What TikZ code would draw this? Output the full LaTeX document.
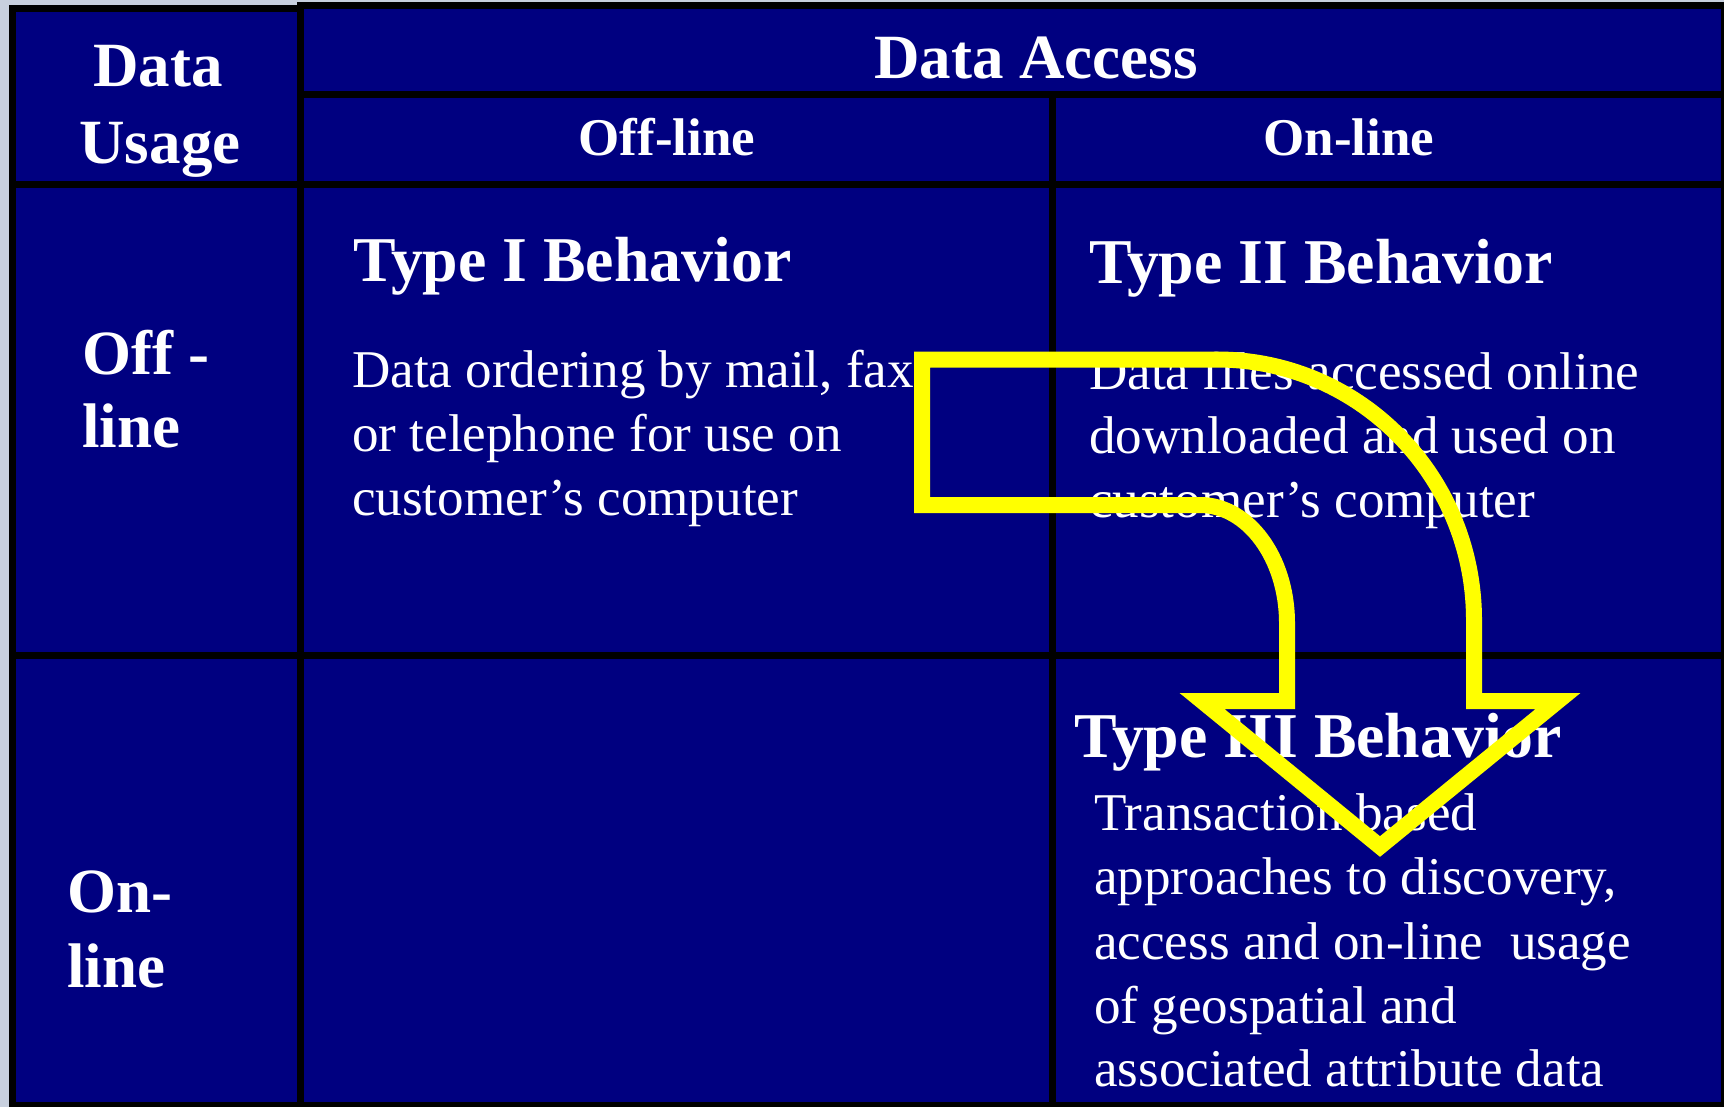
\documentclass[tikz,border=0pt]{standalone}
\usepackage{fontspec}
\setmainfont{Liberation Serif}
\definecolor{navybg}{RGB}{0,0,128}
\definecolor{slidebg}{RGB}{200,208,222}
\definecolor{arrowyellow}{RGB}{255,255,0}
\begin{document}
\begin{tikzpicture}[x=1pt,y=-1pt,
  gridline/.style={line width=7pt,black},
  hdr/.style={text=white,font=\fontsize{63}{75}\selectfont\bfseries,inner sep=0pt},
  subhdr/.style={text=white,font=\fontsize{53}{64}\selectfont\bfseries,inner sep=0pt,anchor=base},
  celltitle/.style={text=white,font=\fontsize{63.8}{76}\selectfont\bfseries,inner sep=0pt,anchor=base west},
  celltext/.style={text=white,font=\fontsize{53.1}{64}\selectfont,inner sep=0pt,anchor=base west},
  bigarrow/.style={draw=arrowyellow,line width=16pt,line join=miter,miter limit=10}]
\useasboundingbox (0,0) rectangle (1724,1107);
% background and cell fill
\fill[slidebg] (0,0) rectangle (1724,1107);
\fill[navybg] (12,9) rectangle (300,1107);
\fill[navybg] (300,6) rectangle (1724,1107);
% grid
\draw[gridline] (12,9) rectangle (300,1105);
\draw[gridline] (300,6) rectangle (1724,1105);
\draw[gridline] (300,95) -- (1724,95);
\draw[gridline] (12,185) -- (1724,185);
\draw[gridline] (1052,95) -- (1052,1105);
\draw[gridline] (12,655) -- (1724,655);
% headers
\node[hdr,anchor=base] (du1) at (158,87) {Data};
\node[hdr,anchor=base] (du2) at (160,164) {Usage};
\node[hdr,anchor=base] (da) at (1036,79) {Data Access};
\node[subhdr] (offh) at (667,156) {Off-line};
\node[subhdr] (onh) at (1349,156) {On-line};
\node[hdr,anchor=base west] (offr1) at (82,374) {Off -};
\node[hdr,anchor=base west] (offr2) at (82,447) {line};
\node[hdr,anchor=base west] (onr1) at (67,912) {On-};
\node[hdr,anchor=base west] (onr2) at (67,987) {line};
% Type I
\node[celltitle] (t1) at (353,282) {Type I Behavior};
\node[celltext] (t1a) at (352,387) {Data ordering by mail, fax};
\node[celltext] (t1b) at (352,451) {or telephone for use on};
\node[celltext] (t1c) at (352,515) {customer’s computer};
% Type II
\node[celltitle] (t2) at (1089,284) {Type II Behavior};
\node[celltext] (t2a) at (1089,389) {Data files accessed online};
\node[celltext] (t2b) at (1089,453) {downloaded and used on};
\node[celltext] (t2c) at (1089,517) {customer’s computer};
% Type III
\node[celltitle] (t3) at (1074,757) {Type III Behavior};
\node[celltext] (t3a) at (1094,830) {Transaction based};
\node[celltext] (t3b) at (1094,894) {approaches to discovery,};
\node[celltext] (t3c) at (1094,959) {access and on-line\ \ usage};
\node[celltext] (t3d) at (1094,1023) {of geospatial and};
\node[celltext] (t3e) at (1094,1086) {associated attribute data};
% yellow curved arrow outline
\draw[bigarrow] (922,359.5) -- (1217,359.5)
  .. controls (1359,359.5) and (1474,476) .. (1474,620)
  -- (1474,701) -- (1558,701) -- (1380,846.5) -- (1202,701) -- (1287,701) -- (1287,623)
  .. controls (1287,558) and (1248,505) .. (1200,505)
  -- (922,505) -- cycle;
\end{tikzpicture}
\end{document}
